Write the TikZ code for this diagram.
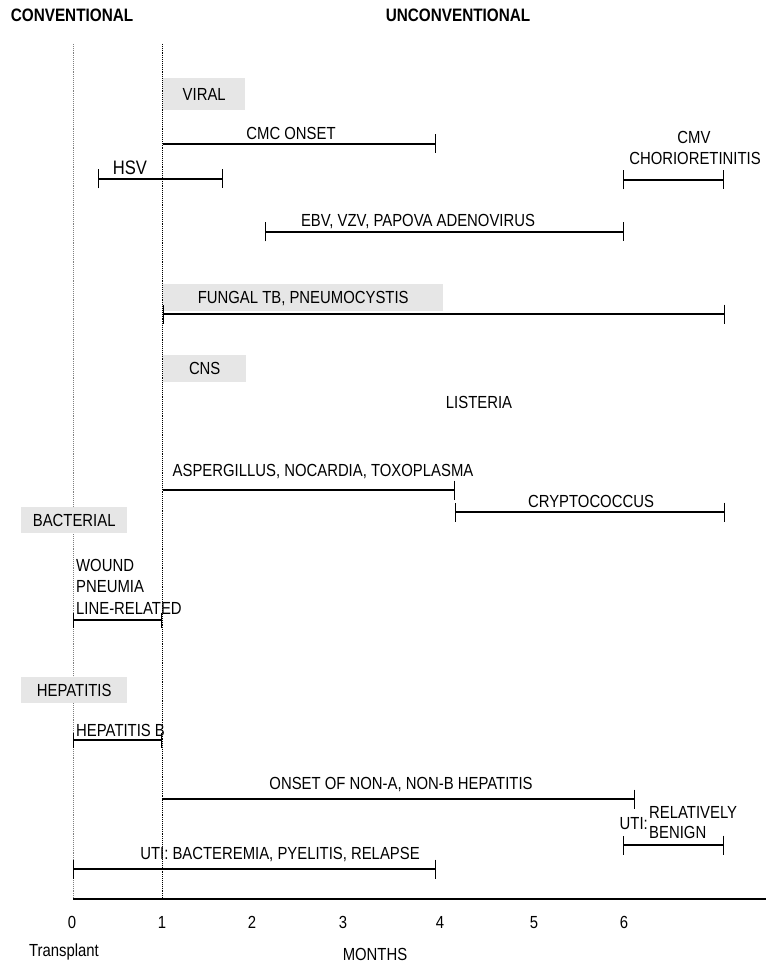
\documentclass[tikz,border=0pt]{standalone}
\usepackage{fontspec}
\setmainfont[FakeStretch=0.85]{Liberation Sans}
\usetikzlibrary{arrows.meta}
\definecolor{boxgray}{HTML}{E6E6E6}
\begin{document}
\begin{tikzpicture}[x=1pt,y=-1pt,
  lbl/.style={font=\fontsize{17.5}{21}\selectfont, inner sep=0pt, anchor=base},
  big/.style={font=\fontsize{19.5}{23}\selectfont, inner sep=0pt, anchor=base},
  head/.style={font=\fontsize{18}{21}\selectfont\bfseries, inner sep=0pt, anchor=base},
  catbox/.style={fill=boxgray, inner sep=0pt, font=\fontsize{17.5}{21}\selectfont,
     text height=12.5pt, text depth=0pt, anchor=north west},
  span/.style={line width=1.3pt, arrows={Bar[width=19pt]-Bar[width=19pt]}},
  rspan/.style={line width=1.3pt, arrows={-Bar[width=19pt]}},
  sspan/.style={line width=1.3pt, arrows={Bar[width=15pt]-Bar[width=15pt]}},
  guide/.style={line width=0.9pt, densely dotted}
]
\useasboundingbox (0,0) rectangle (766,965);

% headings
\node[head] (conv) at (72,22) {CONVENTIONAL};
\node[head] (unconv) at (458,22) {UNCONVENTIONAL};

% guide lines and axis
\coordinate (g0t) at (73,44);  \coordinate (g0b) at (73,899);
\coordinate (g1t) at (162,44); \coordinate (g1b) at (162,899);
\draw[guide, gray] (g0t) -- (g0b);
\draw[guide, black] (g1t) -- (g1b);
\coordinate (axR) at (766,899);
\draw[line width=1.5pt] (g0b) -- (axR);

% VIRAL
\node[catbox, minimum width=82pt, minimum height=32pt] (viral) at (163,78) {VIRAL};
\node[lbl] (cmc) at (291,139.5) {CMC ONSET};
\coordinate (cmcA) at (163,144); \coordinate (cmcB) at (436,144);
\draw[rspan] (cmcA) -- (cmcB);
\node[big] (hsv) at (130,175) {HSV};
\coordinate (hsvA) at (98,179); \coordinate (hsvB) at (223,179);
\draw[span] (hsvA) -- (hsvB);
\node[lbl] (cmv1) at (694,144) {CMV};
\node[lbl] (cmv2) at (695,165) {CHORIORETINITIS};
\coordinate (cmvA) at (623,180); \coordinate (cmvB) at (724,180);
\draw[span] (cmvA) -- (cmvB);
\node[lbl] (ebv) at (418,227) {EBV, VZV, PAPOVA ADENOVIRUS};
\coordinate (ebvA) at (265,232); \coordinate (ebvB) at (624,232);
\draw[span] (ebvA) -- (ebvB);

% FUNGAL
\node[catbox, minimum width=280pt, minimum height=27pt] (fungal) at (163,284) {FUNGAL TB, PNEUMOCYSTIS};
\coordinate (funA) at (163,314); \coordinate (funB) at (725,314);
\draw[span] (funA) -- (funB);

% CNS
\node[catbox, minimum width=83pt, minimum height=27pt] (cns) at (163,355) {CNS};
\node[lbl] (list) at (479,408) {LISTERIA};
\node[lbl] (asp) at (323,476) {ASPERGILLUS, NOCARDIA, TOXOPLASMA};
\coordinate (aspA) at (163,490); \coordinate (aspB) at (455,490);
\draw[rspan] (aspA) -- (aspB);
\node[lbl] (crypto) at (591,507) {CRYPTOCOCCUS};
\coordinate (crA) at (455,512); \coordinate (crB) at (725,512);
\draw[span] (crA) -- (crB);

% BACTERIAL
\node[catbox, minimum width=106pt, minimum height=26pt] (bact) at (21,507) {BACTERIAL};
\node[lbl, anchor=base west] (wound) at (76,571) {WOUND};
\node[lbl, anchor=base west] (pneu) at (76,592) {PNEUMIA};
\node[lbl, anchor=base west] (linerel) at (76,614) {LINE-RELATED};
\coordinate (baA) at (73,620); \coordinate (baB) at (162,620);
\draw[sspan] (baA) -- (baB);

% HEPATITIS
\node[catbox, minimum width=106pt, minimum height=26pt] (hep) at (21,677) {HEPATITIS};
\node[lbl, anchor=base west] (hepb) at (76,736) {HEPATITIS B};
\coordinate (hbA) at (73,740); \coordinate (hbB) at (162,740);
\draw[sspan] (hbA) -- (hbB);
\node[lbl] (nanb) at (401,789) {ONSET OF NON-A, NON-B HEPATITIS};
\coordinate (nbA) at (162,799); \coordinate (nbB) at (635,799);
\draw[rspan] (nbA) -- (nbB);

% UTI
\node[lbl, anchor=base east] (uti2) at (648,829) {UTI:};
\node[lbl, anchor=base west] (rel1) at (649,818) {RELATIVELY};
\node[lbl, anchor=base west] (rel2) at (649,838) {BENIGN};
\coordinate (u2A) at (623,845); \coordinate (u2B) at (724,845);
\draw[span] (u2A) -- (u2B);
\node[lbl] (uti1) at (280,859) {UTI: BACTEREMIA, PYELITIS, RELAPSE};
\coordinate (u1A) at (73,869); \coordinate (u1B) at (436,869);
\draw[span] (u1A) -- (u1B);

% axis labels
\node[lbl] (m0) at (72,928) {0};
\node[lbl] (m1) at (162,928) {1};
\node[lbl] (m2) at (252,928) {2};
\node[lbl] (m3) at (343,928) {3};
\node[lbl] (m4) at (440,928) {4};
\node[lbl] (m5) at (534,928) {5};
\node[lbl] (m6) at (624,928) {6};
\node[lbl] (tx) at (64,956) {Transplant};
\node[lbl] (months) at (375,960) {MONTHS};
\end{tikzpicture}
\end{document}
